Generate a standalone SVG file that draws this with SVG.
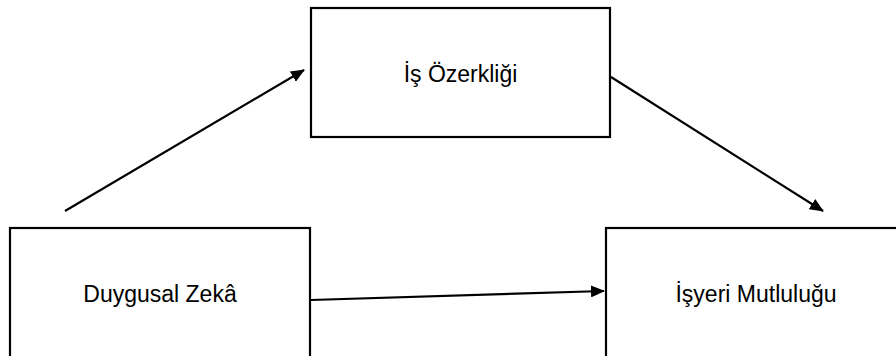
<svg xmlns="http://www.w3.org/2000/svg" width="896" height="356" viewBox="0 0 896 356">
  <style>
    .box { fill: #ffffff; stroke: #000000; stroke-width: 2.2; }
    .label { font-family: "Liberation Sans", Arial, sans-serif; font-size: 23px; fill: #000000; text-anchor: middle; }
    .edge { stroke: #000000; stroke-width: 2.2; fill: none; marker-end: url(#head); }
  </style>
  <defs>
    <marker id="head" viewBox="0 0 14 12" refX="13" refY="6" markerWidth="14" markerHeight="12" markerUnits="userSpaceOnUse" orient="auto">
      <path d="M0,0 L14,6 L0,12 Z" fill="#000000"/>
    </marker>
  </defs>
  <rect width="896" height="356" fill="#ffffff"/>

  <g id="node-is-ozerkligi">
    <rect class="box" x="311" y="8" width="299" height="129"/>
    <text class="label" x="460.5" y="82">İş Özerkliği</text>
  </g>

  <g id="node-duygusal-zeka">
    <rect class="box" x="10" y="228" width="300" height="140"/>
    <text class="label" x="160" y="302">Duygusal Zekâ</text>
  </g>

  <g id="node-isyeri-mutlulugu">
    <rect class="box" x="606" y="228" width="310" height="140"/>
    <text class="label" x="756" y="302">İşyeri Mutluluğu</text>
  </g>

  <g id="connectors">
    <line class="edge" x1="65" y1="211" x2="304" y2="70"/>
    <line class="edge" x1="611" y1="77" x2="823" y2="211"/>
    <line class="edge" x1="311" y1="300" x2="604" y2="291"/>
  </g>
</svg>
